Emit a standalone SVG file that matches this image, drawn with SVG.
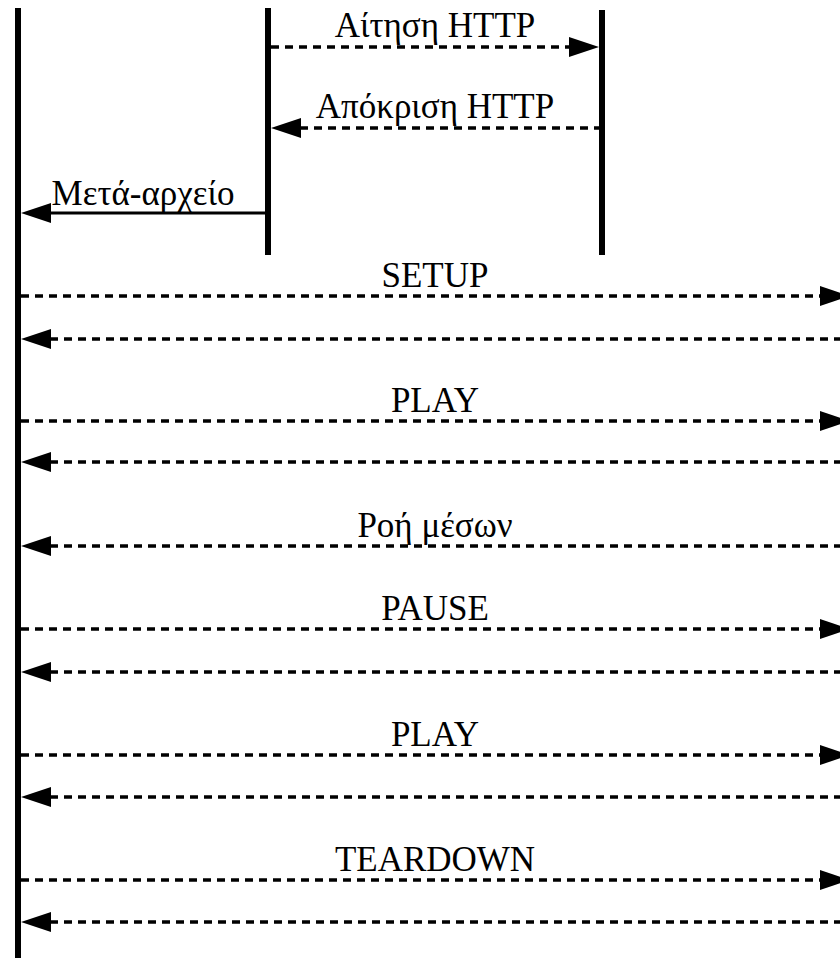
<svg xmlns="http://www.w3.org/2000/svg" width="840" height="959" viewBox="0 0 840 959">
  <style>
    .life { stroke: #000; stroke-width: 6; fill: none; }
    .msg { stroke: #000; stroke-width: 3; fill: none; }
    .dash { stroke-width: 3.5; stroke-dasharray: 8 6; }
    .lbl { font-family: "Liberation Serif", "Times New Roman", serif; font-size: 35px; fill: #000; text-anchor: middle; }
    .head { fill: #000; }
  </style>
  <rect width="840" height="959" fill="#fff"/>

  <!-- lifelines -->
  <g id="client">
    <line class="life" x1="18" y1="8" x2="18" y2="958"/>
  </g>
  <g id="browser">
    <line class="life" x1="268" y1="8" x2="268" y2="255"/>
  </g>
  <g id="webserver">
    <line class="life" x1="602" y1="10" x2="602" y2="255"/>
  </g>

  <!-- messages -->
  <g id="connectors">
    <!-- HTTP request -->
    <line class="msg dash" x1="271" y1="47" x2="570" y2="47"/>
    <polygon class="head" points="599,47 569,37 569,57"/>
    <text class="lbl" x="435" y="37">Αίτηση HTTP</text>

    <!-- HTTP response -->
    <line class="msg dash" x1="300" y1="128" x2="599" y2="128"/>
    <polygon class="head" points="271,128 301,118 301,138"/>
    <text class="lbl" x="435" y="118">Απόκριση HTTP</text>

    <!-- metafile -->
    <line class="msg" x1="50" y1="213" x2="266" y2="213"/>
    <polygon class="head" points="21,213 51,203 51,223"/>
    <text class="lbl" x="143" y="205">Μετά-αρχείο</text>

    <!-- SETUP -->
    <line class="msg dash" x1="21" y1="296" x2="821" y2="296"/>
    <polygon class="head" points="850,296 820,286 820,306"/>
    <text class="lbl" x="435" y="287">SETUP</text>
    <line class="msg dash" x1="50" y1="339" x2="840" y2="339"/>
    <polygon class="head" points="21,339 51,329 51,349"/>

    <!-- PLAY -->
    <line class="msg dash" x1="21" y1="421" x2="821" y2="421"/>
    <polygon class="head" points="850,421 820,411 820,431"/>
    <text class="lbl" x="435" y="412">PLAY</text>
    <line class="msg dash" x1="50" y1="462" x2="840" y2="462"/>
    <polygon class="head" points="21,462 51,452 51,472"/>

    <!-- media stream -->
    <line class="msg dash" x1="50" y1="546" x2="840" y2="546"/>
    <polygon class="head" points="21,546 51,536 51,556"/>
    <text class="lbl" x="435" y="537">Ροή μέσων</text>

    <!-- PAUSE -->
    <line class="msg dash" x1="21" y1="629" x2="821" y2="629"/>
    <polygon class="head" points="850,629 820,619 820,639"/>
    <text class="lbl" x="435" y="620">PAUSE</text>
    <line class="msg dash" x1="50" y1="672" x2="840" y2="672"/>
    <polygon class="head" points="21,672 51,662 51,682"/>

    <!-- PLAY -->
    <line class="msg dash" x1="21" y1="755" x2="821" y2="755"/>
    <polygon class="head" points="850,755 820,745 820,765"/>
    <text class="lbl" x="435" y="746">PLAY</text>
    <line class="msg dash" x1="50" y1="797" x2="840" y2="797"/>
    <polygon class="head" points="21,797 51,787 51,807"/>

    <!-- TEARDOWN -->
    <line class="msg dash" x1="21" y1="880" x2="821" y2="880"/>
    <polygon class="head" points="850,880 820,870 820,890"/>
    <text class="lbl" x="435" y="871">TEARDOWN</text>
    <line class="msg dash" x1="50" y1="922" x2="840" y2="922"/>
    <polygon class="head" points="21,922 51,912 51,932"/>
  </g>
</svg>
